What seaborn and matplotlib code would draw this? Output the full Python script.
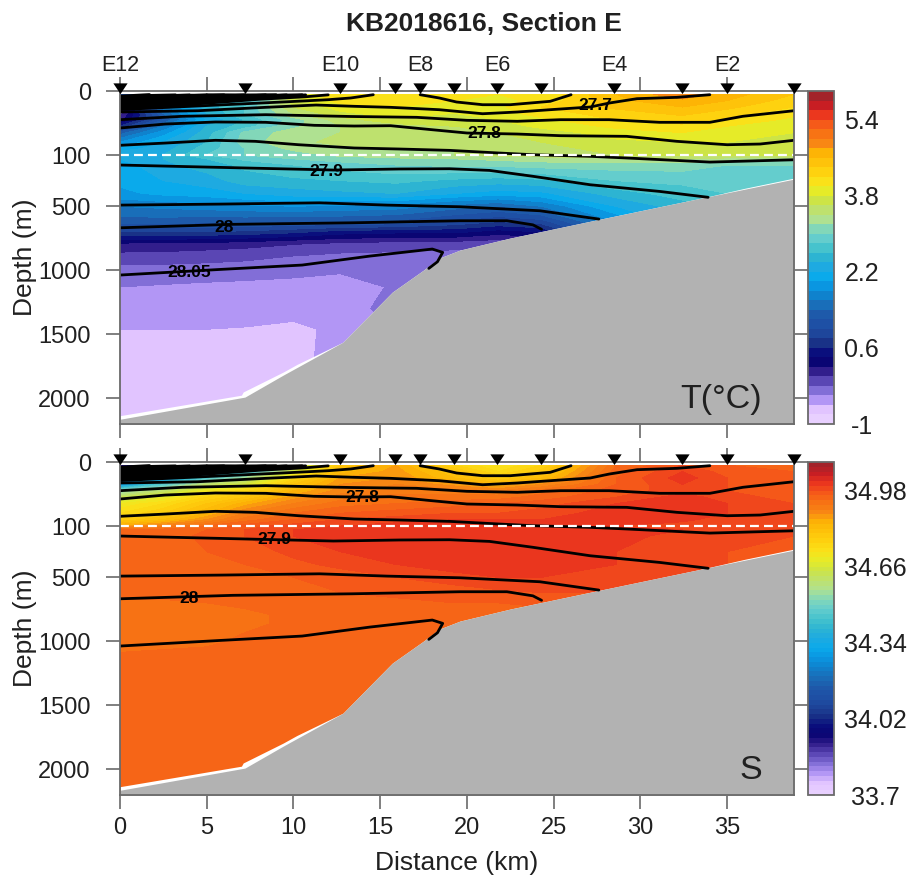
import numpy as np
import matplotlib
matplotlib.use("Agg")
import matplotlib.pyplot as plt
from matplotlib.colors import LinearSegmentedColormap
from matplotlib.transforms import blended_transform_factory
import seaborn as sns

sns.set_theme(style="white")
plt.rcParams['font.family'] = ['Liberation Sans', 'DejaVu Sans']
plt.rcParams['axes.unicode_minus'] = False

# ------------------------------------------------------------------ data
stations_km = [0, 7.2, 12.7, 15.85, 17.3, 19.25, 21.75, 24.25, 28.5, 32.4, 35.0, 38.85]
station_names = ['E12', 'E10', 'E8', 'E6', 'E4', 'E2']
named_station_km = [0, 12.7, 17.3, 21.75, 28.5, 35.0]

grid_km = [0, 2.5, 5, 7.2, 10, 12.7, 15.9, 19.3, 21.8, 24.3, 28.6, 32.4, 35, 38.85]
grid_depth = [5, 15, 25, 35, 45, 55, 65, 80, 90, 100, 130, 178, 300, 400, 500,
              620, 700, 790, 865, 1000, 1130, 1300, 1460, 1700, 2200]

temperature = [
    [1.0, 1.8, 2.6, 3.0, 3.8, 4.2, 4.15, 4.05, 4.0, 4.05, 4.6, 4.95, 4.7, 4.4],
    [0.6, 1.6, 2.3, 2.6, 3.7, 4.1, 4.1, 4.0, 3.95, 4.05, 4.55, 4.75, 4.6, 4.3],
    [0.2, 1.7, 2.5, 2.8, 3.6, 3.9, 4.0, 3.9, 3.95, 4.2, 4.45, 4.6, 4.45, 4.2],
    [-0.1, 1.4, 2.4, 2.8, 3.4, 3.75, 3.9, 3.8, 3.9, 4.1, 4.3, 4.45, 4.3, 4.05],
    [0.1, 1.2, 2.2, 2.6, 3.1, 3.5, 3.75, 3.7, 3.8, 3.95, 4.2, 4.3, 4.15, 3.95],
    [0.6, 1.6, 2.4, 2.7, 3.15, 3.4, 3.5, 3.6, 3.7, 3.85, 4.05, 4.15, 4.0, 3.85],
    [1.3, 1.9, 2.5, 3.05, 3.3, 3.4, 3.45, 3.5, 3.6, 3.7, 3.9, 4.0, 3.9, 3.8],
    [1.8, 2.2, 2.6, 3.1, 3.35, 3.45, 3.45, 3.45, 3.5, 3.6, 3.75, 3.8, 3.8, 3.75],
    [2.1, 2.3, 2.7, 3.0, 3.25, 3.35, 3.4, 3.4, 3.45, 3.55, 3.65, 3.75, 3.75, 3.75],
    [2.35, 2.4, 2.8, 3.0, 3.1, 3.25, 3.35, 3.4, 3.5, 3.5, 3.6, 3.65, 3.7, 3.7],
    [2.2, 2.4, 2.6, 2.85, 3.0, 3.1, 3.15, 3.2, 3.25, 3.3, 3.35, 3.4, 3.3, 3.3],
    [2.1, 2.35, 2.5, 2.65, 2.8, 2.9, 3.0, 3.05, 3.05, 3.1, 3.1, 3.1, 3.0, 3.0],
    [2.05, 2.2, 2.3, 2.5, 2.55, 2.6, 2.65, 2.55, 2.5, 2.55, 2.8, 2.85, 2.9, 2.9],
    [1.95, 2.05, 2.1, 2.2, 2.3, 2.35, 2.4, 2.2, 2.1, 2.15, 2.5, 2.7, 2.8, 2.85],
    [1.6, 1.65, 1.7, 1.75, 1.8, 1.75, 1.7, 1.5, 1.4, 1.6, 2.2, 2.5, 2.7, 2.8],
    [1.3, 1.3, 1.25, 1.25, 1.2, 1.2, 1.15, 0.95, 0.8, 0.9, 1.8, 2.3, 2.6, 2.7],
    [0.8, 0.8, 0.78, 0.75, 0.65, 0.5, 0.45, 0.45, 0.3, 0.4, 1.5, 2.2, 2.5, 2.6],
    [0.18, 0.17, 0.15, 0.1, 0.02, -0.03, -0.08, -0.1, -0.15, -0.1, 1.2, 2.0, 2.4, 2.6],
    [-0.02, -0.03, -0.07, -0.1, -0.17, -0.2, -0.22, -0.25, -0.3, -0.25, 1.0, 1.9, 2.3, 2.5],
    [-0.28, -0.29, -0.3, -0.32, -0.35, -0.38, -0.3, -0.3, -0.3, -0.3, 0.8, 1.8, 2.2, 2.4],
    [-0.4, -0.42, -0.44, -0.45, -0.46, -0.48, -0.38, -0.3, -0.3, -0.3, 0.6, 1.6, 2.1, 2.3],
    [-0.5, -0.5, -0.52, -0.52, -0.52, -0.52, -0.3, -0.3, -0.3, -0.3, 0.4, 1.4, 2.0, 2.2],
    [-0.6, -0.6, -0.6, -0.61, -0.65, -0.55, -0.42, -0.35, -0.35, -0.35, 0.2, 1.2, 1.9, 2.1],
    [-0.72, -0.72, -0.72, -0.72, -0.68, -0.5, -0.42, -0.4, -0.4, -0.4, 0.0, 1.0, 1.8, 2.0],
    [-0.75, -0.75, -0.75, -0.75, -0.7, -0.5, -0.45, -0.4, -0.4, -0.4, 0.0, 0.8, 1.6, 1.9],
]

salinity = [
    [33.9, 34.1, 34.2, 34.3, 34.6, 34.8, 34.86, 34.76, 34.72, 34.76, 34.94, 34.98, 34.96, 34.96],
    [33.95, 34.1, 34.25, 34.4, 34.65, 34.83, 34.87, 34.8, 34.74, 34.79, 34.95, 35.0, 34.97, 34.96],
    [34.1, 34.3, 34.45, 34.55, 34.75, 34.86, 34.88, 34.82, 34.78, 34.82, 34.96, 35.01, 34.98, 34.97],
    [34.3, 34.45, 34.6, 34.65, 34.8, 34.88, 34.9, 34.87, 34.84, 34.88, 34.96, 35.0, 34.98, 34.97],
    [34.52, 34.6, 34.7, 34.75, 34.84, 34.89, 34.91, 34.91, 34.9, 34.93, 34.97, 34.99, 34.98, 34.97],
    [34.62, 34.68, 34.76, 34.8, 34.87, 34.91, 34.93, 34.93, 34.93, 34.95, 34.98, 35.01, 34.99, 34.97],
    [34.7, 34.74, 34.8, 34.85, 34.9, 34.93, 34.94, 34.95, 34.96, 34.97, 35.0, 35.015, 35.0, 34.98],
    [34.74, 34.78, 34.84, 34.9, 34.94, 34.96, 34.97, 34.98, 34.98, 34.99, 35.01, 35.015, 35.0, 34.98],
    [34.78, 34.82, 34.88, 34.93, 34.96, 34.98, 34.99, 35.0, 35.0, 35.0, 35.01, 35.005, 34.99, 34.98],
    [34.86, 34.9, 34.94, 34.97, 34.99, 35.0, 35.01, 35.01, 35.015, 35.01, 35.0, 34.99, 34.99, 34.98],
    [34.94, 34.95, 34.96, 34.98, 35.0, 35.01, 35.015, 35.015, 35.02, 35.02, 35.005, 35.0, 34.99, 34.98],
    [34.94, 34.95, 34.965, 34.98, 35.0, 35.01, 35.015, 35.02, 35.02, 35.02, 35.005, 34.995, 34.985, 34.98],
    [34.94, 34.945, 34.96, 34.97, 34.985, 35.0, 35.015, 35.02, 35.02, 35.02, 35.0, 34.99, 34.98, 34.98],
    [34.94, 34.945, 34.95, 34.96, 34.975, 34.985, 35.0, 35.015, 35.02, 35.02, 35.0, 34.99, 34.98, 34.98],
    [34.945, 34.95, 34.95, 34.955, 34.96, 34.97, 34.98, 34.99, 35.0, 35.0, 34.99, 34.98, 34.98, 34.98],
    [34.95, 34.95, 34.95, 34.95, 34.955, 34.96, 34.965, 34.97, 34.975, 34.98, 34.98, 34.98, 34.98, 34.98],
    [34.935, 34.935, 34.94, 34.945, 34.95, 34.95, 34.955, 34.96, 34.96, 34.965, 34.97, 34.97, 34.97, 34.97],
    [34.93, 34.93, 34.93, 34.935, 34.945, 34.95, 34.95, 34.95, 34.95, 34.95, 34.96, 34.96, 34.96, 34.96],
    [34.93, 34.93, 34.93, 34.935, 34.945, 34.95, 34.95, 34.95, 34.95, 34.95, 34.95, 34.95, 34.95, 34.95],
    [34.93, 34.93, 34.935, 34.945, 34.95, 34.95, 34.95, 34.95, 34.95, 34.95, 34.95, 34.95, 34.95, 34.95],
    [34.945, 34.95, 34.95, 34.95, 34.95, 34.95, 34.95, 34.95, 34.95, 34.95, 34.95, 34.95, 34.95, 34.95],
    [34.95, 34.95, 34.95, 34.95, 34.95, 34.95, 34.95, 34.95, 34.95, 34.95, 34.95, 34.95, 34.95, 34.95],
    [34.95, 34.95, 34.95, 34.95, 34.95, 34.95, 34.95, 34.95, 34.95, 34.95, 34.95, 34.95, 34.95, 34.95],
    [34.95, 34.95, 34.95, 34.95, 34.95, 34.95, 34.95, 34.95, 34.95, 34.95, 34.95, 34.95, 34.95, 34.95],
    [34.95, 34.95, 34.95, 34.95, 34.95, 34.95, 34.95, 34.95, 34.95, 34.95, 34.95, 34.95, 34.95, 34.95],
]

# isopycnals: (distance km, depth m)
iso_a_km = [0, 2.6, 5.5, 7.8, 10.3, 13.5, 16.1, 19.0, 21.9, 23.8, 27.1, 29.2, 34.0, 38.85]
iso_a_m = [84.8, 81.3, 77, 78.6, 83.9, 89, 90.6, 92.7, 96.9, 99.5, 110, 123, 155, 137]
iso_b_km = [0, 2.6, 5.5, 8.4, 11.2, 13.5, 15.6, 18.0, 20.0, 22.9, 25.4, 29.2, 32.1, 35.0, 36.9, 38.85]
iso_b_m = [57.8, 51.6, 48.4, 48.9, 53.6, 54.7, 54.2, 60.5, 65.6, 67.2, 69.8, 70.8, 78.6, 83.9, 82.8, 77]
iso_c_km = [0, 3.6, 8.4, 13.3, 17.1, 20.0, 22.9, 25.4, 28.2, 31.1, 34.0, 35.9, 38.85]
iso_c_m = [44.8, 39.5, 37, 39.8, 41.1, 45.8, 47.3, 44.8, 44.8, 48.9, 48.9, 39.5, 30.8]
iso_d_km = [0, 4.5, 8.4, 11.3, 13.5, 15.6, 18.4, 20.9, 22.9, 24.8, 27.1, 28.2, 29.8, 32.1, 34.0]
iso_d_m = [32.8, 30.8, 25.5, 21.9, 23.9, 25.5, 29.2, 35.5, 32.8, 29.2, 25, 18.8, 12, 9.9, 5.8]
iso_e_km = [17.3, 18.4, 19.4, 20.9, 22.5, 24.8, 26.0]
iso_e_m = [5.8, 10.9, 17.2, 21.4, 21.4, 16.1, 5.8]
iso_279_km = [0, 5, 12.3, 13.3, 16.1, 19.0, 21.3, 23.8, 27.1, 31.1, 33.9]
iso_279_m = [178, 194, 217, 215, 209, 207, 220, 266, 332, 384, 430]
iso_500_km = [0, 5.8, 11.5, 15.4, 19.6, 24.2, 27.6]
iso_500_m = [491, 483, 473, 491, 504, 535, 600]
iso_28_km = [0, 6.5, 13.4, 19.6, 22.3, 23.8, 24.3]
iso_28_m = [668, 641, 629, 613, 613, 645, 680]
iso_2805_km = [0, 5.8, 10.5, 14.4, 18.0, 18.6, 18.3, 17.8]
iso_2805_m = [1037, 993, 959, 889, 834, 860, 933, 985]
fan_lines = [
    ([0, 4, 9.5, 12, 13.3, 14.6], [29, 24, 17, 13.6, 10.9, 5.8]),
    ([0, 4, 8, 10.7, 12.0], [27, 21, 13, 9, 6]),
    ([0, 4, 8, 10.7], [24, 18, 11, 6]),
    ([0, 4, 7, 9.6], [22, 16, 10, 6]),
    ([0, 4, 8.4], [20, 13, 6]),
    ([0, 4, 7.2], [18, 11, 6]),
    ([0, 3, 6], [16, 10, 6]),
    ([0, 2.5, 5], [14, 9, 6]),
    ([0, 2, 4], [12, 8, 6]),
    ([0, 1.5, 3.2], [10, 7, 6]),
    ([0, 1.7], [8, 5.5]),
    ([4, 7.5, 9.0], [6.5, 6.5, 5.8]),
    ([5, 9, 10.5], [6, 6.5, 5.8]),
]

bathy_km = [0, 7.2, 9.4, 12.85, 15.7, 17.5, 18.4, 19.6, 22.5, 27.7, 33.8, 36.9, 38.85]
bathy_m = [2163, 1990, 1819, 1561, 1170, 998, 905, 842, 748, 600, 428, 342, 288]
floor_km = [0, 7.0, 7.1, 9.4, 10.2, 12.85, 15.7, 17.5, 18.4, 19.6, 22.5, 27.7, 33.8, 36.0, 38.85]
floor_m = [2135, 1975, 1950, 1795, 1735, 1561, 1170, 998, 905, 842, 748, 600, 428, 360, 280]

# colour ramp, top of the colour bar first
ramp_top_down = [
    '#a3232a', '#c81e23', '#eb371e', '#f55a19', '#f77314', '#f88714', '#fdb405', '#fec30a',
    '#fed20f', '#fae119', '#e6eb28', '#cde446', '#bee16e', '#afe191', '#82d7b9', '#64cdcd',
    '#46c3cd', '#2db4d2', '#1eaae1', '#0aaaeb', '#0a96e1', '#0f82cd', '#196eb9', '#1e5aaa',
    '#1e50a5', '#1e469b', '#193287', '#0a0f7d', '#0a0573', '#321e8c', '#5a46b4', '#826ed7',
    '#b296f5', '#e1c4ff', '#e8d0ff',
]
t_ticks = [-1, 0.6, 2.2, 3.8, 5.4]
t_ticklabels = ['-1', '0.6', '2.2', '3.8', '5.4']
s_ticks = [33.7, 34.02, 34.34, 34.66, 34.98]
s_ticklabels = ['33.7', '34.02', '34.34', '34.66', '34.98']
depth_ticks = [0, 100, 500, 1000, 1500, 2000]
x_ticks = [0, 5, 10, 15, 20, 25, 30, 35]

# ------------------------------------------------------------------ layout
W, H = 909, 880
GREY = '#6a6a6a'
TXT = '#202020'
fig = plt.figure(figsize=(W / 100, H / 100), dpi=100)


def box(x0, y0, x1, y1):
    return [x0 / W, 1 - y1 / H, (x1 - x0) / W, (y1 - y0) / H]


ax_t = fig.add_axes(box(120, 91, 794, 424))
ax_s = fig.add_axes(box(120, 462, 794, 795))
cax_t = fig.add_axes(box(808, 91, 834, 424))
cax_s = fig.add_axes(box(808, 462, 834, 795))


def fwd(d):
    d = np.asarray(d, dtype=float)
    return np.where(d <= 100, d, 100 + (d - 100) * 0.2)


def inv(v):
    v = np.asarray(v, dtype=float)
    return np.where(v <= 100, v, 100 + (v - 100) * 5)


ramp = ramp_top_down[::-1]
t_levels = np.arange(36) * 0.2 - 1.0
s_levels = 33.7 + np.arange(71) * 0.02
s_cmap = LinearSegmentedColormap.from_list('ramp', ramp, N=70)
flat_triangle = [(-1, 0.72), (1, 0.72), (0, -0.78)]


def draw_panel(ax, field, levels, label, iso_labels, **kw):
    cf = ax.contourf(grid_km, grid_depth, np.array(field), levels=levels, extend='neither', zorder=1, **kw)
    ax.fill_between(floor_km, floor_m, 2300, color='white', lw=0, zorder=2)
    ax.fill_between(bathy_km, bathy_m, 2300, color='#b2b2b2', lw=0, zorder=3)
    lines = [(iso_a_km, iso_a_m), (iso_b_km, iso_b_m), (iso_c_km, iso_c_m), (iso_d_km, iso_d_m),
             (iso_e_km, iso_e_m), (iso_279_km, iso_279_m), (iso_500_km, iso_500_m),
             (iso_28_km, iso_28_m), (iso_2805_km, iso_2805_m)] + fan_lines
    for xs, ys in lines:
        sns.lineplot(x=xs, y=ys, ax=ax, sort=False, estimator=None, color='black',
                     linewidth=2.0, zorder=4, legend=False)
    sns.lineplot(x=[0, 38.85], y=[100, 100], ax=ax, color='white', linewidth=1.6,
                 dashes=(4, 2.3), zorder=5, legend=False)
    for xv, yv, s in iso_labels:
        ax.text(xv, yv, s, fontsize=12.5, fontweight='bold', color='black', ha='center',
                va='center', zorder=6)
    sns.scatterplot(x=stations_km, y=[-4.5] * len(stations_km), ax=ax, marker=flat_triangle, s=105,
                    color='black', linewidth=0, clip_on=False, zorder=8, legend=False)
    ax.set_yscale('function', functions=(fwd, inv))
    ax.set_xlim(0, 38.85)
    ax.set_ylim(2200, 0)
    ax.set_xticks(x_ticks)
    ax.set_yticks(depth_ticks)
    ax.minorticks_off()
    ax.tick_params(axis='both', which='major', length=10, width=1.2, color=GREY,
                   top=True, right=True, bottom=True, left=True, labelsize=17,
                   labelcolor=TXT, direction='out')
    ax.tick_params(axis='y', pad=11)
    ax.tick_params(axis='x', pad=6)
    for sp in ax.spines.values():
        sp.set_visible(True)
        sp.set_color(GREY)
        sp.set_linewidth(1.3)
        sp.set_zorder(7)
    ax.set_ylabel('Depth (m)', fontsize=19, color=TXT, va='center')
    ax.yaxis.set_label_coords(-0.141, 0.5)
    ax.text(0.9525, 0.075, label, transform=ax.transAxes, fontsize=24.5, color=TXT,
            ha='right', va='center', zorder=9)
    return cf


cf_t = draw_panel(ax_t, temperature, t_levels, 'T(°C)',
                  [(27.4, 22, '27.7'), (21.0, 66, '27.8'), (11.9, 225, '27.9'),
                   (6.0, 662, '28'), (4.0, 1015, '28.05')], colors=ramp)
cf_s = draw_panel(ax_s, salinity, s_levels, 'S',
                  [(13.95, 56, '27.8'), (8.9, 202, '27.9'), (4.0, 662, '28')], cmap=s_cmap)

ax_t.tick_params(axis='x', labelbottom=False)
ax_t.set_xlabel('')
ax_s.set_xlabel('Distance (km)', fontsize=19, color=TXT, va='center')
ax_s.xaxis.set_label_coords(0.5, -0.204)
ax_t.set_title('KB2018616, Section E', fontsize=19, fontweight='bold', color=TXT,
               x=(484 - 120) / 674, y=(424 - 24) / 333, va='center', pad=0)

trans = blended_transform_factory(ax_t.transData, ax_t.transAxes)
for km, name in zip(named_station_km, station_names):
    ax_t.text(km, 1.078, name, transform=trans, fontsize=15.5, color=TXT, ha='center', va='center')

for cax, cf, ticks, labels, pad in [(cax_t, cf_t, t_ticks, t_ticklabels, 20),
                                    (cax_s, cf_s, s_ticks, s_ticklabels, 30)]:
    cb = fig.colorbar(cf, cax=cax, ticks=ticks)
    cb.ax.set_yticklabels(labels)
    cb.ax.tick_params(length=0, labelsize=18, labelcolor=TXT, pad=pad)
    for t in cb.ax.get_yticklabels():
        t.set_ha('center')
    cb.outline.set_edgecolor(GREY)
    cb.outline.set_linewidth(1.3)

fig.savefig('out.png', dpi=100)
